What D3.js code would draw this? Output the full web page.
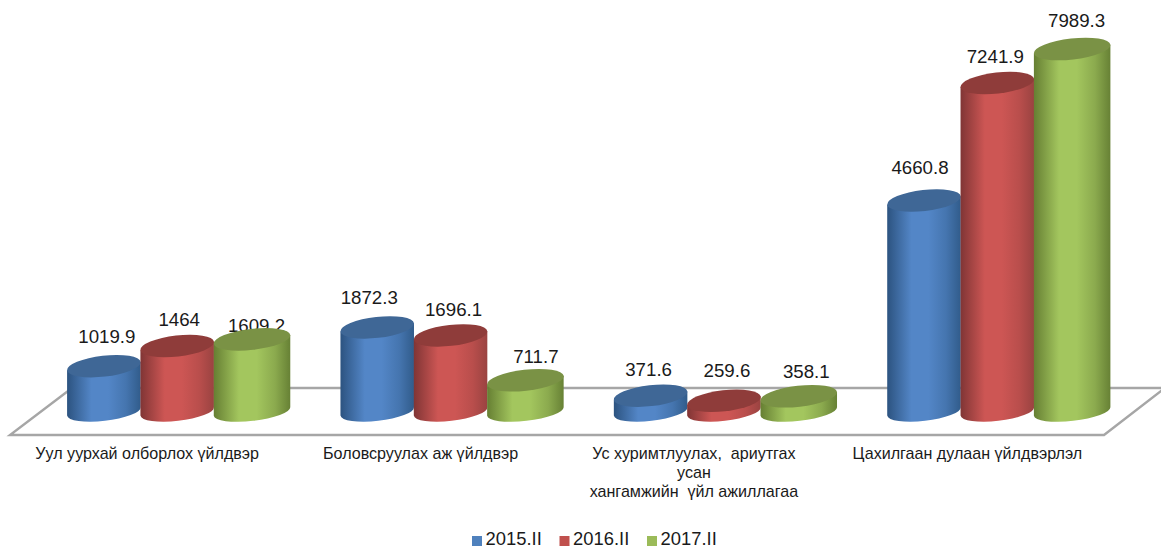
<!DOCTYPE html>
<html><head><meta charset="utf-8">
<script src="https://cdn.jsdelivr.net/npm/d3@7"></script>
<style>html,body{margin:0;padding:0;background:#fff;overflow:hidden}svg{display:block}text{font-family:"Liberation Sans",Arial,sans-serif;fill:#1a1a1a}</style>
</head><body><div id="chart"></div>
<script>
const categories = [["Уул уурхай олборлох үйлдвэр"],["Боловсруулах аж үйлдвэр"],["Ус хуримтлуулах,  ариутгах","усан","хангамжийн  үйл ажиллагаа"],["Цахилгаан дулаан үйлдвэрлэл"]];
const seriesNames = ["2015.II","2016.II","2017.II"];
const values2015 = [1019.9,1872.3,371.6,4660.8];
const values2016 = [1464,1696.1,259.6,7241.9];
const values2017 = [1609.2,711.7,358.1,7989.3];
const labelShift2015 = [[3,-23],[-8,-23],[-2,-20],[-4,-26.5]];
const labelShift2016 = [[2,-20],[3,-19],[3,-23.5],[-2,-20]];
const labelShift2017 = [[6,-7],[12,-17],[9,-18.5],[6,-22]];
const palette = [
 {swatch:"#4f81bd",top:"#3f6796",dark:"#2c5380",mid:"#5386c7",end:"#315c8b"},
 {swatch:"#c0504d",top:"#8f3c3a",dark:"#803535",mid:"#cd5654",end:"#9a4341"},
 {swatch:"#9bbb59",top:"#7a9245",dark:"#667f33",mid:"#a3c65e",end:"#678135"}];
const radii = [37,37,38.5];

const W=1161,H=548;
const svg=d3.select("#chart").append("svg").attr("width",W).attr("height",H);
const keys=categories.map(c=>c.join(" "));
const x0=d3.scaleBand().domain(keys).range([40.5,1134]);
const x1=d3.scaleBand().domain(seriesNames).range([-110,110]);
const y=d3.scaleLinear().domain([0,7989.3]).range([412.6,49]);
const ry=10.5, baseRy=9.5, baseLift=1.2, tilt=-6.5;

const defs=svg.append("defs");
palette.forEach((p,i)=>{
  const g=defs.append("linearGradient").attr("id","g"+i);
  [[0,p.dark],[.33,p.mid],[.56,p.mid],[.8,d3.interpolateRgb(p.mid,p.end)(.4)],[1,p.end]].forEach(s=>g.append("stop").attr("offset",s[0]).attr("stop-color",s[1]));
});

// floor
const floor=d3.path();
floor.moveTo(72,388);floor.lineTo(10,435);floor.lineTo(1104,435);floor.lineTo(1165,388);floor.lineTo(72,388);
svg.append("path").attr("d",floor.toString()).attr("fill","#fff").attr("stroke","#a6a6a6").attr("stroke-width",2.4);

const all=[values2015,values2016,values2017];
const shifts=[labelShift2015,labelShift2016,labelShift2017];

// value labels (sit behind the cylinders)
seriesNames.forEach((s,si)=>{
  svg.append("g").selectAll("text").data(all[si]).join("text")
    .attr("x",(d,i)=>x0(keys[i])+x0.bandwidth()/2+x1(s)+x1.bandwidth()/2+shifts[si][i][0])
    .attr("y",(d,i)=>y(d)+shifts[si][i][1])
    .attr("text-anchor","middle").attr("font-size",18.7).text(d=>String(d));
});

// cylinders
keys.forEach((k,ci)=>{
  seriesNames.forEach((s,si)=>{
    const rx=radii[si];
    const cx=x0(k)+x0.bandwidth()/2+x1(s)+x1.bandwidth()/2+(rx-37), v=all[si][ci], top=y(v), base=y(0)-baseLift;
    const g=svg.append("g").attr("transform",`translate(${cx},0)`);
    const t=tilt*Math.PI/180, ex=rx*Math.cos(t), ey=rx*Math.sin(t);
    g.append("path").attr("fill",`url(#g${si})`)
     .attr("d",`M${-ex},${top-ey} L${-ex},${base-ey} A${rx},${baseRy} ${tilt} 0 0 ${ex},${base+ey} L${ex},${top+ey} Z`);
    g.append("ellipse").attr("cx",0).attr("cy",top).attr("rx",rx).attr("ry",ry)
     .attr("transform",`rotate(${tilt} 0 ${top})`).attr("fill",palette[si].top);
  });
});

// category axis
const axisX=d3.axisBottom(x0).tickSize(0).tickFormat("");
const ax=svg.append("g").attr("transform","translate(-30,440)").call(axisX);
ax.select(".domain").remove();
ax.selectAll(".tick").each(function(d,i){
  const t=d3.select(this).append("text").attr("text-anchor","middle").attr("font-size",16.1).attr("xml:space","preserve");
  categories[i].forEach((ln,j)=>t.append("tspan").attr("x",0).attr("y",19+j*19).text(ln));
});

// legend
const legendX=d3.scalePoint().domain(seriesNames).range([472,647]);
const lg=svg.append("g").selectAll("g").data(seriesNames).join("g").attr("transform",d=>`translate(${legendX(d)},536)`);
lg.append("rect").attr("width",10).attr("height",10).attr("fill",(d,i)=>palette[i].swatch);
lg.append("text").attr("x",13.5).attr("y",8.5).attr("font-size",18.4).text(d=>d);
</script></body></html>
